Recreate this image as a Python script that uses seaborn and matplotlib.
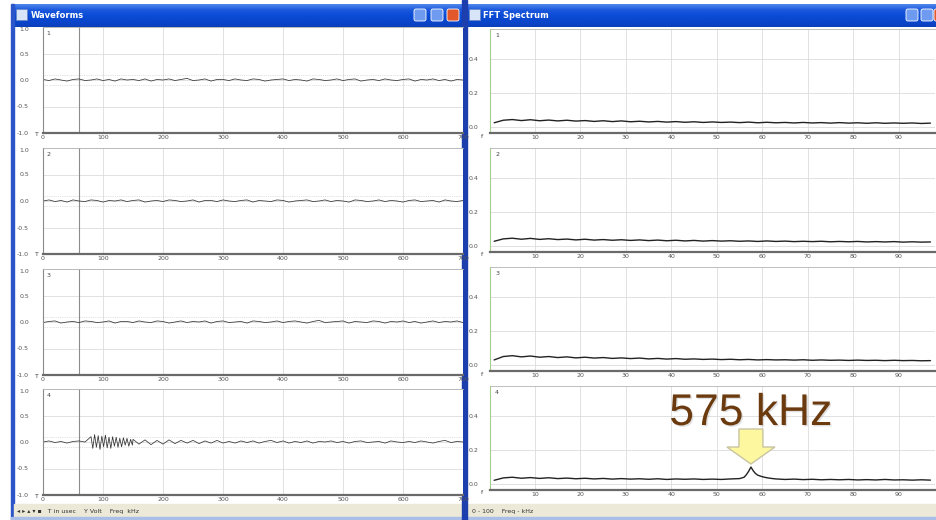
import numpy as np
import matplotlib
matplotlib.use("Agg")
import matplotlib.pyplot as plt
from matplotlib.patches import Rectangle, Polygon, FancyBboxPatch
from matplotlib.colors import LinearSegmentedColormap
import matplotlib.patheffects as pe
import seaborn as sns

W, H = 937, 520

# ---- waveform channels (time in usec, amplitude in V) ----
wave_t = list(range(0, 701, 10))
wave1 = [0.01, -0.01, 0.02, 0.00, -0.02, 0.01, 0.02, -0.01, 0.00, 0.02,
         -0.01, 0.01, -0.02, 0.02, 0.00, 0.01, -0.01, 0.02, -0.02, 0.01,
         0.00, 0.02, -0.01, 0.01, 0.03, -0.01, 0.00, 0.02, -0.02, 0.01,
         0.01, -0.01, 0.02, 0.00, -0.01, 0.02, 0.01, -0.02, 0.00, 0.01,
         0.02, -0.01, 0.01, 0.00, -0.02, 0.02, 0.01, -0.01, 0.00, 0.02,
         -0.01, 0.01, 0.02, -0.02, 0.00, 0.01, -0.01, 0.02, 0.00, -0.01,
         0.01, 0.02, -0.02, 0.01, 0.00, 0.02, -0.01, 0.01, -0.02, 0.01,
         0.00]
wave2 = [0.00, 0.02, -0.01, 0.01, -0.02, 0.02, 0.00, -0.01, 0.02, 0.01,
         -0.02, 0.01, 0.00, 0.02, -0.01, 0.01, 0.02, -0.02, 0.00, 0.01,
         -0.01, 0.02, 0.01, -0.01, 0.00, 0.02, -0.02, 0.01, 0.01, -0.01,
         0.02, 0.00, -0.01, 0.01, 0.02, -0.02, 0.01, 0.00, -0.01, 0.02,
         0.01, -0.02, 0.00, 0.01, 0.02, -0.01, 0.00, 0.02, -0.01, 0.01,
         0.00, -0.02, 0.02, 0.01, -0.01, 0.00, 0.02, -0.01, 0.01, 0.00,
         -0.02, 0.01, 0.02, -0.01, 0.00, 0.01, -0.02, 0.02, 0.00, -0.01,
         0.01]
wave3 = [-0.01, 0.01, 0.02, -0.02, 0.00, 0.01, -0.01, 0.02, 0.01, -0.01,
         0.00, 0.02, -0.02, 0.01, 0.01, -0.01, 0.02, 0.00, -0.01, 0.02,
         0.01, -0.02, 0.00, 0.02, -0.01, 0.01, 0.00, 0.02, -0.02, 0.01,
         0.02, -0.01, 0.00, 0.01, -0.02, 0.02, 0.01, -0.01, 0.00, 0.02,
         -0.01, 0.01, 0.02, 0.00, -0.02, 0.01, 0.03, -0.01, 0.00, 0.01,
         0.02, -0.02, 0.01, 0.00, -0.01, 0.02, 0.01, -0.02, 0.01, 0.00,
         0.02, -0.01, 0.01, -0.02, 0.00, 0.02, -0.01, 0.01, 0.00, 0.02,
         -0.01]
# channel 4 is sampled more finely across the burst
wave4_t = list(range(0, 80, 10)) + list(range(80, 150, 3)) + list(range(150, 701, 10))
wave4 = [0.00, 0.02, -0.01, 0.01, -0.02, 0.01, 0.02, 0.00,
         0.10, -0.12, 0.14, -0.10, 0.12, -0.14, 0.11, -0.09, 0.13, -0.11,
         0.09, -0.12, 0.10, -0.08, 0.09, -0.10, 0.07, -0.09, 0.08, -0.06,
         0.07, -0.08, 0.05, -0.06,
         0.05, -0.04, 0.04, -0.05, 0.03, -0.04, 0.04, -0.03, 0.03, -0.02,
         0.03, -0.03, 0.02, -0.02, 0.03, -0.02, 0.01, -0.02, 0.02, -0.01,
         0.02, -0.02, 0.01, 0.03, -0.01, 0.02, -0.02, 0.01, -0.01, 0.02,
         -0.02, 0.01, 0.00, 0.02, -0.01, 0.01, -0.02, 0.01, 0.02, -0.01,
         0.00, 0.01, -0.02, 0.02, 0.00, -0.01, 0.01, -0.01, 0.02, 0.00,
         -0.02, 0.01, 0.03, -0.01, 0.01, 0.00]
waves = [(wave_t, wave1), (wave_t, wave2), (wave_t, wave3), (wave4_t, wave4)]

# ---- FFT spectra (x in units of 10 kHz) ----
fft_f = list(range(1, 98, 2))
fft1 = [0.025, 0.040, 0.044, 0.038, 0.043, 0.037, 0.041, 0.036, 0.040, 0.035,
        0.038, 0.033, 0.037, 0.032, 0.036, 0.031, 0.034, 0.030, 0.033, 0.029,
        0.032, 0.028, 0.031, 0.027, 0.030, 0.027, 0.029, 0.026, 0.029, 0.025,
        0.028, 0.025, 0.027, 0.024, 0.027, 0.024, 0.026, 0.023, 0.026, 0.023,
        0.025, 0.022, 0.025, 0.022, 0.024, 0.022, 0.024, 0.021, 0.023]
fft2 = [0.028, 0.042, 0.046, 0.040, 0.045, 0.039, 0.043, 0.038, 0.041, 0.036,
        0.040, 0.035, 0.038, 0.034, 0.037, 0.033, 0.036, 0.032, 0.035, 0.031,
        0.034, 0.030, 0.033, 0.029, 0.032, 0.029, 0.031, 0.028, 0.030, 0.027,
        0.030, 0.027, 0.029, 0.026, 0.028, 0.026, 0.028, 0.025, 0.027, 0.025,
        0.027, 0.024, 0.026, 0.024, 0.026, 0.023, 0.025, 0.023, 0.024]
fft3 = [0.030, 0.050, 0.055, 0.048, 0.053, 0.046, 0.050, 0.044, 0.048, 0.042,
        0.046, 0.041, 0.044, 0.039, 0.042, 0.038, 0.041, 0.036, 0.039, 0.035,
        0.038, 0.034, 0.036, 0.033, 0.035, 0.032, 0.034, 0.031, 0.033, 0.030,
        0.032, 0.030, 0.031, 0.029, 0.031, 0.028, 0.030, 0.028, 0.029, 0.027,
        0.029, 0.027, 0.028, 0.026, 0.028, 0.026, 0.027, 0.025, 0.026]
fft4_f = (list(range(1, 56, 2))
          + [56, 56.5, 57, 57.5, 58, 58.5, 59, 60, 61, 62]
          + list(range(63, 98, 2)))
fft4 = [0.022, 0.036, 0.040, 0.034, 0.038, 0.033, 0.037, 0.032, 0.035, 0.031,
        0.034, 0.030, 0.033, 0.029, 0.032, 0.029, 0.031, 0.028, 0.031, 0.027,
        0.030, 0.028, 0.030, 0.027, 0.029, 0.027, 0.030, 0.032,
        0.040, 0.055, 0.075, 0.100, 0.078, 0.062, 0.052, 0.043, 0.037, 0.033,
        0.030, 0.027, 0.029, 0.026, 0.028, 0.025, 0.027, 0.025, 0.027, 0.024,
        0.026, 0.024, 0.027, 0.024, 0.025, 0.023, 0.025, 0.023]
spectra = [(fft_f, fft1), (fft_f, fft2), (fft_f, fft3), (fft4_f, fft4)]

peak_freq = 57.5
peak_mag = 0.100
peak_label = "575 kHz"

wave_xticks = [0, 100, 200, 300, 400, 500, 600, 700]
wave_yticks = [-1.0, -0.5, 0.0, 0.5, 1.0]
wave_ylabels = ["-1.0", "-0.5", "0.0", "0.5", "1.0"]
fft_xticks = [10, 20, 30, 40, 50, 60, 70, 80, 90]
fft_yticks = [0.0, 0.2, 0.4]
fft_ylabels = ["0.0", "0.2", "0.4"]
channel_names = ["1", "2", "3", "4"]

# ---- figure ----
sns.set_theme(style="white")
plt.rcParams["font.family"] = ["DejaVu Sans"]
fig = plt.figure(figsize=(W / 100, H / 100), dpi=100)
fig.patch.set_facecolor("white")

bg = fig.add_axes([0, 0, 1, 1])
bg.set_zorder(0)
bg.axis("off")

title_cmap = LinearSegmentedColormap.from_list(
    "title", ["#4f88ee", "#1c58dc", "#0a4bd6", "#0a46cc", "#0a40bc"])
grad = np.linspace(0, 1, 64).reshape(-1, 1)
for x0, x1 in [(14, 462), (467, 937)]:
    bg.imshow(grad, cmap=title_cmap, extent=(x0, x1, 27, 4), aspect="auto", zorder=1)
bg.set_xlim(0, W)
bg.set_ylim(H, 0)

# window frames and divider
bg.add_patch(Rectangle((11, 4), 3, H - 4, color="#2b55c8", zorder=2))
bg.add_patch(Rectangle((462, 0), 5, H, color="#1d3fae", zorder=3))
bg.add_patch(Rectangle((14, 504), 448, 14, color="#ece9d8", zorder=2))
bg.add_patch(Rectangle((467, 504), 470, 14, color="#ece9d8", zorder=2))
bg.add_patch(Rectangle((11, 517), W - 11, 3, color="#a9bfe8", zorder=2))

# title bar captions and window buttons
bg.add_patch(Rectangle((16, 9), 11, 11, facecolor="#d8e4f8", edgecolor="#6a86c0", lw=0.5, zorder=3))
bg.add_patch(Rectangle((469, 9), 11, 11, facecolor="#d8e4f8", edgecolor="#6a86c0", lw=0.5, zorder=3))
bg.text(31, 16, "Waveforms", color="white", fontsize=6, fontweight="bold", va="center", zorder=4)
bg.text(483, 16, "FFT Spectrum", color="white", fontsize=6, fontweight="bold", va="center", zorder=4)
for bx, col in [(414, "#6e9bf0"), (431, "#6e9bf0"), (447, "#e2582c"),
                (906, "#6e9bf0"), (921, "#6e9bf0"), (934, "#e2582c")]:
    bg.add_patch(FancyBboxPatch((bx, 9), 12, 12, boxstyle="round,pad=0,rounding_size=2",
                                facecolor=col, edgecolor="white", lw=0.6, zorder=4))

# status bars
bg.text(17, 511, "\u25c2 \u25b8 \u25b4 \u25be \u25aa   T in usec    Y Volt    Freq  kHz",
        fontsize=4.5, color="#333333", va="center", zorder=4)
bg.text(472, 511, "0 - 100    Freq - kHz", fontsize=4.5, color="#333333", va="center", zorder=4)


def px_axes(x0, y0, x1, y1):
    ax = fig.add_axes([x0 / W, 1 - y1 / H, (x1 - x0) / W, (y1 - y0) / H])
    ax.set_zorder(2)
    ax.set_facecolor("white")
    return ax


def style_axes(ax, left_color):
    ax.grid(True, color="#dcdcdc", lw=0.6)
    ax.set_axisbelow(True)
    ax.spines["right"].set_visible(False)
    ax.spines["bottom"].set_color("#6a6a6a")
    ax.spines["bottom"].set_linewidth(1.6)
    ax.spines["top"].set_color("#b4b4b4")
    ax.spines["top"].set_linewidth(0.6)
    ax.spines["left"].set_color(left_color)
    ax.spines["left"].set_linewidth(0.8)
    ax.set_xlabel("")
    ax.set_ylabel("")


# ---- waveform panels ----
wave_bottoms = [133, 254, 375, 495]
for i, (t, v) in enumerate(waves):
    b = wave_bottoms[i]
    ax = px_axes(43, b - 106, 463, b)
    ax.axhline(0.1, color="#c4c4c4", lw=0.5, ls=":", zorder=1)
    ax.axhline(-0.1, color="#c4c4c4", lw=0.5, ls=":", zorder=1)
    ax.axvline(60, color="#8c8c8c", lw=0.8, zorder=1)
    sns.lineplot(x=t, y=v, ax=ax, color="#333333", linewidth=0.55, estimator=None, sort=False)
    ax.set_xlim(0, 700)
    ax.set_ylim(-1, 1)
    ax.set_xticks(wave_xticks)
    ax.set_xticklabels([str(x) for x in wave_xticks])
    ax.set_yticks(wave_yticks)
    ax.set_yticklabels(wave_ylabels)
    ax.tick_params(axis="x", length=0, labelsize=4.5, colors="#555555", pad=1.2)
    ax.tick_params(axis="y", length=0, labelsize=4.5, colors="#555555", pad=10)
    ax.get_yticklabels()[-1].set_verticalalignment("top")
    style_axes(ax, "#8a8a8a")
    ax.text(6, 0.92, channel_names[i], fontsize=4.5, color="#444444", va="top")
    bg.text(35, b + 1, "T", fontsize=4.5, color="#444444", va="center", zorder=4)

# ---- spectrum panels ----
fft_bottoms = [133, 252, 371, 490]
fft_axes = []
for i, (f, m) in enumerate(spectra):
    b = fft_bottoms[i]
    ax = px_axes(489.6, b - 104, 935, b)
    sns.lineplot(x=f, y=m, ax=ax, color="#222222", linewidth=1.0, estimator=None, sort=False)
    ax.set_xlim(0, 98)
    ax.set_ylim(-0.035, 0.576)
    ax.set_xticks(fft_xticks)
    ax.set_xticklabels([str(x) for x in fft_xticks])
    ax.set_yticks(fft_yticks)
    ax.set_yticklabels(fft_ylabels)
    ax.tick_params(axis="x", length=0, labelsize=4.5, colors="#555555", pad=1.5)
    ax.tick_params(axis="y", length=0, labelsize=4.5, colors="#555555", pad=8)
    style_axes(ax, "#a6d08a")
    ax.text(1.2, 0.555, channel_names[i], fontsize=4.5, color="#444444", va="top")
    bg.text(481, b + 3, "f", fontsize=4.5, color="#444444", va="center", zorder=4)
    fft_axes.append(ax)

# ---- peak callout ----
ov = fig.add_axes([0, 0, 1, 1])
ov.set_zorder(6)
ov.patch.set_alpha(0)
ov.axis("off")
ov.set_xlim(0, W)
ov.set_ylim(H, 0)

dx, dy = fft_axes[3].transData.transform((peak_freq, peak_mag))
px, tip = dx, H - dy - 3
arrow = Polygon([(px - 12, tip - 35), (px + 12, tip - 35), (px + 12, tip - 17),
                 (px + 24, tip - 17), (px, tip), (px - 24, tip - 17), (px - 12, tip - 17)],
                closed=True, facecolor="#fdf8a0", edgecolor="#c8c4a0", lw=1.0, zorder=5)
ov.add_patch(arrow)
ov.text(px, tip - 39, peak_label, ha="center", va="baseline", fontsize=32,
        family=["Liberation Sans", "DejaVu Sans"], color="#6b3a0e", zorder=6,
        path_effects=[pe.SimplePatchShadow(offset=(1.0, -1.0), shadow_rgbFace="#999999", alpha=0.3),
                      pe.Normal()])

fig.savefig("out.png", dpi=100, facecolor=fig.get_facecolor())
